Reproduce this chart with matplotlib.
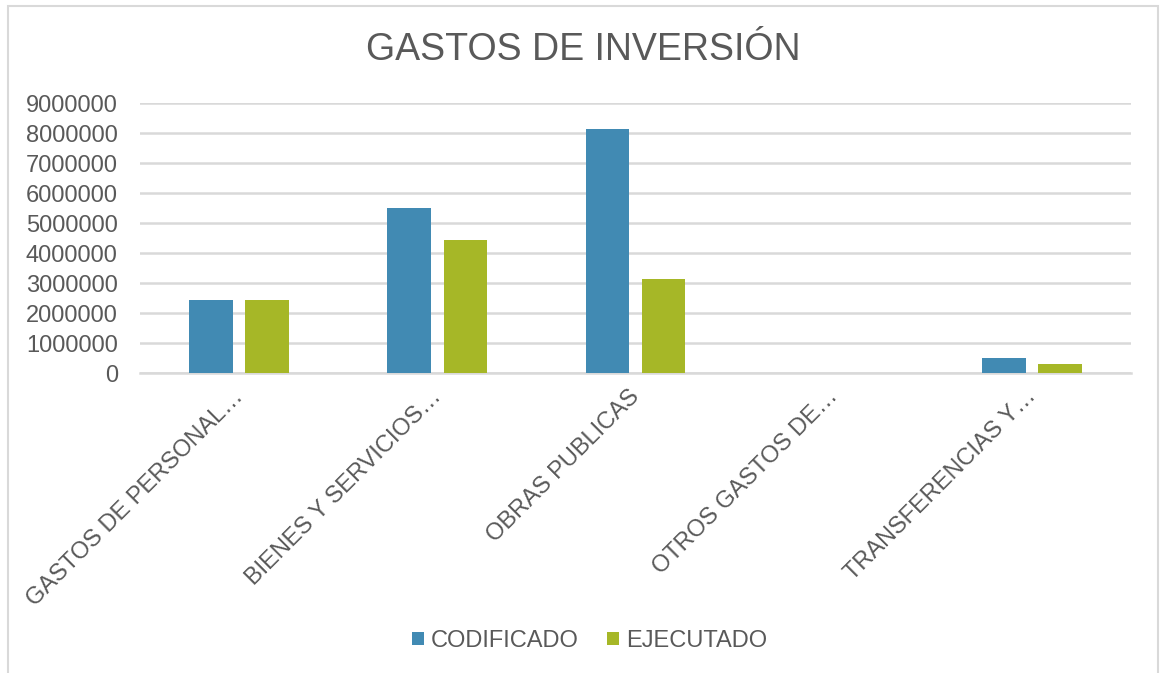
import numpy as np
import matplotlib.pyplot as plt
from matplotlib.patches import Rectangle
from matplotlib.transforms import ScaledTranslation

plt.rcParams['font.family'] = ['Liberation Sans', 'DejaVu Sans']

categories = ['GASTOS DE PERSONAL…', 'BIENES Y SERVICIOS…', 'OBRAS PUBLICAS',
              'OTROS GASTOS DE…', 'TRANSFERENCIAS Y…']
codificado = [2450000, 5500000, 8120000, 15000, 510000]
ejecutado = [2420000, 4430000, 3130000, 8000, 300000]
yticks = np.arange(0, 9000001, 1000000)

blue = '#418AB3'
green = '#A6B727'
text_color = '#595959'

fig = plt.figure(figsize=(11.6, 6.73), dpi=100)
ax = fig.add_axes([140 / 1160, 1 - 373 / 673, (1131 - 140) / 1160, (373 - 103) / 673])

x = np.arange(len(categories))
w = 0.22
ax.bar(x - 0.142, codificado, w, color=blue, label='CODIFICADO', zorder=3)
ax.bar(x + 0.142, ejecutado, w, color=green, label='EJECUTADO', zorder=3)

ax.set_xlim(-0.5, len(categories) - 0.5)
ax.set_ylim(0, 9000000)
ax.set_yticks(yticks)
ax.set_yticklabels([str(v) for v in yticks])
ax.yaxis.grid(True, color='#D9D9D9', linewidth=1.8, zorder=0)
ax.set_axisbelow(True)
for side in ['top', 'right', 'left']:
    ax.spines[side].set_visible(False)
ax.spines['bottom'].set_color('#D9D9D9')
ax.spines['bottom'].set_linewidth(1.8)
ax.tick_params(axis='y', length=0, pad=16, labelsize=17, labelcolor=text_color)
ax.tick_params(axis='x', length=0, pad=9, labelsize=17, labelcolor=text_color)

# rotated category labels, upper-right corner sitting under each group
ax.set_xticks(x)
ax.set_xticklabels(categories, rotation=45, ha='right', va='top',
                   rotation_mode='anchor')
offset = ScaledTranslation(-7 / 100, 0, fig.dpi_scale_trans)
for lbl in ax.get_xticklabels():
    lbl.set_transform(lbl.get_transform() + offset)

fig.text(0.503, 1 - 50 / 673, 'GASTOS DE INVERSIÓN', ha='center', va='center',
         fontsize=27, color=text_color)

fig.legend(loc='center', bbox_to_anchor=(0.508, 1 - 641 / 673), ncol=2,
           frameon=False, fontsize=17, labelcolor=text_color,
           handlelength=0.5, handleheight=0.5, handletextpad=0.3,
           columnspacing=1.2)

# chart-area border
fig.patches.append(Rectangle((8 / 1160, -0.05), 1150 / 1160, 1.05 - 6 / 673,
                             transform=fig.transFigure, fill=False,
                             edgecolor='#D9D9D9', linewidth=1.5))

fig.savefig('out.png', dpi=100)
